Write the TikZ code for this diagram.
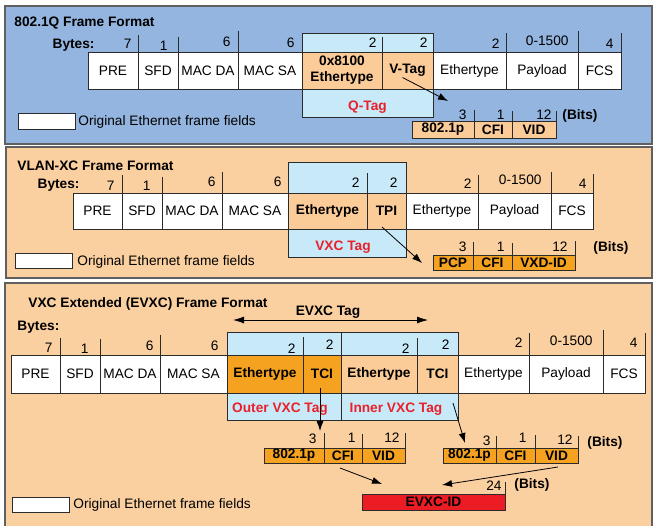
\documentclass[tikz,border=0pt]{standalone}
\usepackage{fontspec}
\setmainfont{Liberation Sans}
\usepackage{tikz}
\usetikzlibrary{arrows.meta,calc}
\definecolor{qblue}{HTML}{94B5DF}
\definecolor{peach}{HTML}{FBD0A0}
\definecolor{tagblue}{HTML}{C8E9F8}
\definecolor{tagorange}{HTML}{FBCB98}
\definecolor{vxcorange}{HTML}{F4A21F}
\definecolor{evxcred}{HTML}{EC1C24}
\definecolor{tagred}{HTML}{E8212B}
\definecolor{rulegray}{HTML}{2B2B2B}
\newcommand{\figfont}{\fontsize{13.7}{15}\selectfont}

\begin{document}
\begin{tikzpicture}[x=1pt,y=-1pt,font=\figfont,line width=0.9pt,
  panel/.style={draw=rulegray!75,line width=1.1pt},
  wfield/.style={draw=rulegray,fill=white,inner sep=0pt,outer sep=0pt,align=center,font=\figfont},
  pfield/.style={wfield,fill=tagorange,font=\figfont\bfseries},
  ofield/.style={wfield,fill=vxcorange,font=\figfont\bfseries},
  tagbox/.style={draw=rulegray,fill=tagblue,inner sep=0pt,outer sep=0pt},
  tick/.style={draw=rulegray},
  num/.style={anchor=base east,inner sep=0pt,font=\figfont},
  ttl/.style={anchor=base west,inner sep=0pt,font=\figfont\bfseries},
  legtext/.style={anchor=base west,inner sep=0pt,font=\figfont},
  tagname/.style={text=tagred,inner sep=0pt,font=\figfont\bfseries},
  tagarrow/.style={-{Latex[length=10pt,width=7pt]},line width=0.8pt,draw=black}]
\useasboundingbox (0,0) rectangle (655,525);

% 802.1Q
\draw[panel,fill=qblue] (5,6) rectangle (652,144);
\node[ttl] (qtitle) at (14,26) {802.1Q Frame Format};
\node[ttl,anchor=base east] (qbytes) at (95,48) {Bytes:};
\node[tagbox,minimum width=131pt,minimum height=84pt] (qtag) at (367.5,75) {};
\node[tagname] (qtagname) at (367.5,107) {Q-Tag};
\foreach \a/\b/\t/\s/\n/\num/\tt/\nb/\g in {
  88/138/PRE/wfield/qpre/7/35/48/6,
  138/178/SFD/wfield/qsfd/1/37/50/10,
  178/238/MAC DA/wfield/qda/6/31/46/7,
  238/302/MAC SA/wfield/qsa/6/33/47/7,
  302/382/{0x8100\\[1pt]Ethertype}/pfield/qeth/2/37/47/5,
  382/433/V-Tag/pfield/qvtag/2/33/47/5,
  433/506/Ethertype/wfield/qtype/2/33/48/6,
  506/578/Payload/wfield/qpay/0-1500/31/45/9,
  578/621/FCS/wfield/qfcs/4/33/48/7}{
  \node[\s,minimum width={(\b-\a)*1pt},minimum height=37pt] (\n) at ({(\a+\b)/2},70.5) {\t};
  \draw[tick] (\n.north east) -- (\b,\tt);
  \node[num] at ({\b-\g},\nb) {\num};
}
\foreach \a/\b/\t/\n/\num/\tt/\nb/\g in {
  412/474/802.1p/qprio/3/110/119/7,
  474/512/CFI/qcfi/1/111/119/7,
  512/556/VID/qvid/12/111/119/4}{
  \node[pfield,minimum width={(\b-\a)*1pt},minimum height=17pt] (\n) at ({(\a+\b)/2},129.5) {\t};
  \draw[tick] (\n.north east) -- (\b,\tt);
  \node[num] at ({\b-\g},\nb) {\num};
}
\node[ttl] (qbits) at (562,119) {(Bits)};
\coordinate (qto) at (448,101);
\draw[tagarrow] ($(qvtag.center)+(-5,7)$) -- (qto);
\node[wfield,minimum width=57pt,minimum height=16pt] (qleg) at (46.5,121) {};
\node[legtext] (qlegtext) at (78,125) {Original Ethernet frame fields};

% VLAN-XC
\draw[panel,fill=peach] (6,147) rectangle (652,278);
\node[ttl] (vtitle) at (17,170) {VLAN-XC Frame Format};
\node[ttl,anchor=base east] (vbytes) at (80,188) {Bytes:};
\node[tagbox,minimum width=118pt,minimum height=95pt] (vtag) at (347,209.5) {};
\node[tagname] (vtagname) at (343,247) {VXC Tag};
\foreach \a/\b/\t/\s/\n/\num/\tt/\nb/\g in {
  73/122/PRE/wfield/vpre/7/175/190/7,
  122/162/SFD/wfield/vsfd/1/177/190/11,
  162/222/MAC DA/wfield/vda/6/172/186/6,
  222/288/MAC SA/wfield/vsa/6/162/186/6,
  288/367/Ethertype/pfield/veth/2/173/187/7,
  367/406/TPI/pfield/vtpi/2/162/187/8,
  406/478/Ethertype/wfield/vtype/2/175/188/6,
  478/551/Payload/wfield/vpay/0-1500/172/184/9,
  551/593/FCS/wfield/vfcs/4/174/188/6}{
  \node[\s,minimum width={(\b-\a)*1pt},minimum height=36pt] (\n) at ({(\a+\b)/2},211) {\t};
  \draw[tick] (\n.north east) -- (\b,\tt);
  \node[num] at ({\b-\g},\nb) {\num};
}
\foreach \a/\b/\t/\n/\num/\tt/\nb/\g in {
  433/473/PCP/vpcp/3/242/251/6,
  473/512/CFI/vcfi/1/243/251/7,
  512/575/VXD-ID/vxid/12/241/251/7}{
  \node[ofield,minimum width={(\b-\a)*1pt},minimum height=15pt] (\n) at ({(\a+\b)/2},262.5) {\t};
  \draw[tick] (\n.north east) -- (\b,\tt);
  \node[num] at ({\b-\g},\nb) {\num};
}
\node[ttl] (vbits) at (593,251) {(Bits)};
\coordinate (vto) at (422,263);
\draw[tagarrow] ($(vtpi.center)+(-4.5,16)$) -- (vto);
\node[wfield,minimum width=57pt,minimum height=15pt] (vleg) at (43.5,260.5) {};
\node[legtext] (vlegtext) at (77,265) {Original Ethernet frame fields};

% EVXC
\draw[panel,fill=peach] (5,283) rectangle (652,530);
\node[ttl] (etitle) at (28,307) {VXC Extended (EVXC) Frame Format};
\node[ttl] (ebytes) at (17,330) {Bytes:};
\node[ttl,anchor=center] (evxctag) at (328,312) {EVXC Tag};
\coordinate (evl) at (233,320);
\coordinate (evr) at (428,320);
\draw[{Latex[length=11pt,width=7pt]}-{Latex[length=11pt,width=7pt]},line width=0.8pt] (evl) -- (evr);
\node[tagbox,minimum width=114pt,minimum height=88pt] (eotag) at (284,376) {};
\node[tagbox,minimum width=117pt,minimum height=88pt] (eitag) at (399.5,376) {};
\node[tagname] (eotagname) at (280,409) {Outer VXC Tag};
\node[tagname] (eitagname) at (396,409) {Inner VXC Tag};
\foreach \a/\b/\t/\s/\n/\num/\tt/\nb/\g in {
  11/60/PRE/wfield/epre/7/338/352/7,
  60/100/SFD/wfield/esfd/1/339/353/11,
  100/160/MAC DA/wfield/eda/6/335/350/6,
  160/227/MAC SA/wfield/esa/6/332/350/8,
  227/303/Ethertype/ofield/eoeth/2/337/353/7,
  303/341/TCI/ofield/eotci/2/332/349/7,
  341/417/Ethertype/pfield/eieth/2/338/353/7,
  417/458/TCI/pfield/eitci/2/332/349/8,
  458/529/Ethertype/wfield/etype/2/333/347/6,
  529/603/Payload/wfield/epay/0-1500/330/345/10,
  603/645/FCS/wfield/efcs/4/333/347/7}{
  \node[\s,minimum width={(\b-\a)*1pt},minimum height=38pt] (\n) at ({(\a+\b)/2},374) {\t};
  \draw[tick] (\n.north east) -- (\b,\tt);
  \node[num] at ({\b-\g},\nb) {\num};
}
\foreach \a/\b/\t/\n/\num/\tt/\nb/\g in {
  264/324/802.1p/eprio/3/433/443/7,
  324/362/CFI/ecfi/1/434/442/6,
  362/405/VID/evid/12/433/442/5,
  443/496/802.1p/eprioi/3/436/445/5,
  496/535/CFI/ecfii/1/435/442/8,
  535/578/VID/evidi/12/436/444/5}{
  \node[ofield,minimum width={(\b-\a)*1pt},minimum height=15pt] (\n) at ({(\a+\b)/2},455.5) {\t};
  \draw[tick] (\n.north east) -- (\b,\tt);
  \node[num] at ({\b-\g},\nb) {\num};
}
\node[ttl] (ebits) at (587,446) {(Bits)};
\coordinate (eoto) at (320,431);
\coordinate (eito) at (465,443);
\draw[tagarrow] ($(eotci.center)+(-2,14)$) -- (eoto);
\draw[tagarrow] ($(eitag.south east)+(-5,-17)$) -- (eito);
\node[ofield,fill=evxcred,minimum width=143pt,minimum height=16pt] (evxcid) at (433.5,502) {EVXC-ID};
\draw[tick] (evxcid.north east) -- (505,482);
\node[num] at (502,490) {24};
\node[ttl] (evbits) at (514,488) {(Bits)};
\coordinate (eidl) at (382,484);
\coordinate (eidr) at (442,485);
\draw[tagarrow] ($(ecfi.south)+(-3,5)$) -- (eidl);
\draw[tagarrow] ($(evidi.south)+(1.5,4)$) -- (eidr);
\node[wfield,minimum width=57pt,minimum height=15pt] (eleg) at (40.5,504.5) {};
\node[legtext] (elegtext) at (73,508) {Original Ethernet frame fields};
\end{tikzpicture}
\end{document}
